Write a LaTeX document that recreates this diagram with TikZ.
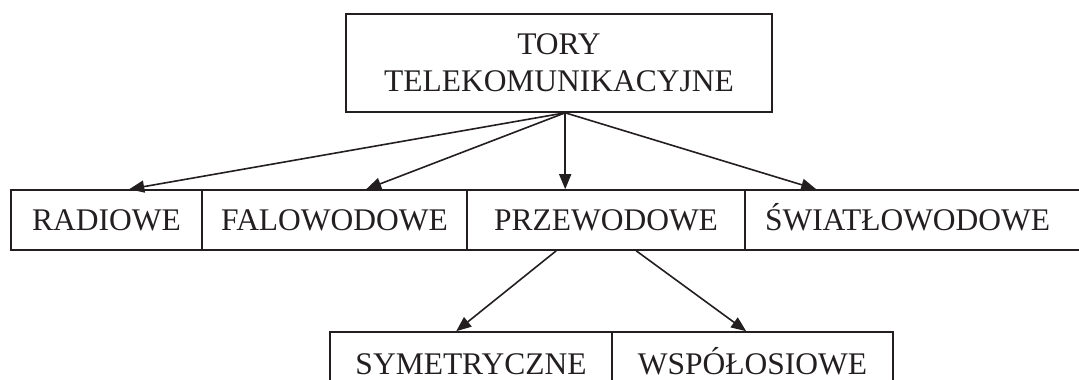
\documentclass[tikz,border=0pt]{standalone}
\usepackage{fontspec}
\setmainfont{Liberation Serif}
\usetikzlibrary{arrows.meta}
\definecolor{ink}{HTML}{231F20}
\begin{document}
\begin{tikzpicture}[x=1pt,y=-1pt,
  box/.style={draw=ink, line width=1.6pt, inner sep=0pt, text=ink, font=\fontsize{31.5}{37}\selectfont},
  rowbox/.style={box, text height=20.5pt, text depth=0pt},
  conn/.style={draw=ink, line width=1.6pt, -{Triangle[length=15pt,width=12pt]}}]
\useasboundingbox (0,0) rectangle (1079,380);
\node[box, minimum width=426pt, minimum height=98pt, align=center] (top) at (559,63) {TORY\\TELEKOMUNIKACYJNE};
\node[rowbox, minimum width=191pt, minimum height=60pt] (radio) at (106.5,220) {RADIOWE};
\node[rowbox, minimum width=265pt, minimum height=60pt] (falo) at (334.5,220) {FALOWODOWE};
\node[rowbox, minimum width=278pt, minimum height=60pt] (prze) at (606,220) {PRZEWODOWE};
\node[rowbox, minimum height=60pt, text width=315pt, inner xsep=20pt, align=left] (swiat) at (922.5,220) {ŚWIATŁOWODOWE};
\node[rowbox, minimum width=282pt, minimum height=64pt] (sym) at (471,364) {SYMETRYCZNE};
\node[rowbox, minimum width=281pt, minimum height=64pt] (wsp) at (752.5,364) {WSPÓŁOSIOWE};
\draw[conn] ([xshift=220pt]top.south west) -- ([xshift=119pt]radio.north west);
\draw[conn] ([xshift=220pt]top.south west) -- ([xshift=165pt]falo.north west);
\draw[conn] ([xshift=220pt]top.south west) -- ([xshift=99pt]prze.north west);
\draw[conn] ([xshift=220pt]top.south west) -- ([xshift=72pt]swiat.north west);
\draw[conn] ([xshift=90pt]prze.south west) -- ([xshift=127pt]sym.north west);
\draw[conn] ([xshift=170pt]prze.south west) -- ([xshift=135pt]wsp.north west);
\end{tikzpicture}
\end{document}
